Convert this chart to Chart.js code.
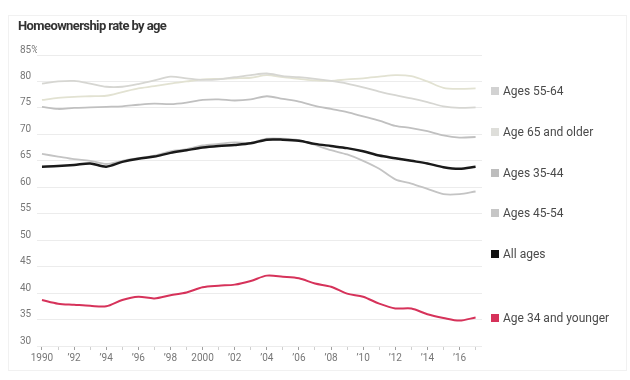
<!DOCTYPE html>
<html lang="en">
<head>
    <meta charset="UTF-8">
    <title>Homeownership rate by age</title>
    <script src="https://cdn.jsdelivr.net/npm/chart.js"></script>
    <style>
        body { margin: 0; background: #fff; font-family: Roboto, sans-serif; }
        #wrap { position: relative; width: 630px; height: 380px; }
        #frame { position: absolute; left: 8px; top: 15px; width: 617px; height: 354px; border: 1px solid #f1f1f1; }
        #title { position: absolute; left: 18px; top: 18px; font-size: 13px; font-weight: bold; color: #333; letter-spacing: -0.6px; }
        .leg { position: absolute; left: 491px; font-size: 12px; color: #4a4a4a; white-space: nowrap; line-height: 14px; }
        .leg i { display: inline-block; width: 8px; height: 8px; margin-right: 4px; vertical-align: 0px; }
    </style>
</head>
<body>
<div id="wrap">
    <div id="frame"></div>
    <canvas id="chart" width="630" height="380"></canvas>
    <div id="title">Homeownership rate by age</div>
</div>
<script>
    const years = [1990, 1991, 1992, 1993, 1994, 1995, 1996, 1997, 1998, 1999,
                   2000, 2001, 2002, 2003, 2004, 2005, 2006, 2007, 2008, 2009,
                   2010, 2011, 2012, 2013, 2014, 2015, 2016, 2017];

    const age55to64 = [79.6, 80.0, 80.1, 79.6, 79.0, 79.0, 79.5, 80.2, 80.9, 80.6,
                       80.3, 80.4, 80.8, 81.2, 81.5, 81.0, 80.8, 80.5, 80.1, 79.6,
                       78.9, 78.1, 77.4, 76.8, 76.1, 75.3, 75.0, 75.1];
    const age65plus = [76.5, 76.9, 77.1, 77.2, 77.3, 78.0, 78.7, 79.1, 79.6, 80.0,
                       80.4, 80.5, 80.6, 80.7, 81.2, 80.8, 80.5, 80.2, 80.1, 80.4,
                       80.6, 80.9, 81.2, 81.0, 80.0, 78.8, 78.6, 78.7];
    const age35to44 = [66.3, 65.8, 65.3, 65.0, 64.4, 65.0, 65.5, 66.0, 66.8, 67.2,
                       67.9, 68.2, 68.5, 68.4, 69.2, 69.2, 68.9, 68.0, 67.0, 66.2,
                       65.0, 63.5, 61.5, 60.7, 59.7, 58.7, 58.7, 59.2];
    const age45to54 = [75.2, 74.8, 75.0, 75.1, 75.2, 75.3, 75.6, 75.8, 75.7, 76.0,
                       76.5, 76.6, 76.4, 76.6, 77.2, 76.7, 76.2, 75.4, 74.8, 74.2,
                       73.4, 72.6, 71.6, 71.2, 70.6, 69.8, 69.4, 69.5];
    const allAges = [63.9, 64.0, 64.2, 64.5, 63.9, 64.8, 65.4, 65.8, 66.5, 67.0,
                     67.5, 67.8, 68.0, 68.3, 69.0, 69.0, 68.8, 68.2, 67.8, 67.4,
                     66.8, 66.0, 65.5, 65.0, 64.5, 63.8, 63.5, 63.9];
    const age34under = [38.7, 38.0, 37.8, 37.6, 37.5, 38.7, 39.3, 39.0, 39.6, 40.1,
                        41.1, 41.4, 41.6, 42.3, 43.3, 43.1, 42.8, 41.8, 41.2, 39.9,
                        39.3, 38.0, 37.1, 37.1, 36.0, 35.3, 34.8, 35.4];

    const yTicks = [30, 35, 40, 45, 50, 55, 60, 65, 70, 75, 80, 85];

    // legend order as printed on the right, with its y position
    const legendItems = [
        { label: 'Ages 55-64', color: '#d2d2d2', top: 84 },
        { label: 'Age 65 and older', color: '#dededa', top: 125 },
        { label: 'Ages 35-44', color: '#bdbdbd', top: 166 },
        { label: 'Ages 45-54', color: '#c6c6c6', top: 206 },
        { label: 'All ages', color: '#111111', top: 247 },
        { label: 'Age 34 and younger', color: '#d6325a', top: 311 }
    ];

    const wrap = document.getElementById('wrap');
    legendItems.forEach(item => {
        const d = document.createElement('div');
        d.className = 'leg';
        d.style.top = item.top + 'px';
        d.innerHTML = '<i style="background:' + item.color + '"></i>' + item.label;
        wrap.appendChild(d);
    });

    Chart.defaults.font.family = 'Roboto';
    const ctx = document.getElementById('chart');

    new Chart(ctx, {
        type: 'line',
        data: {
            labels: years,
            datasets: [
                { label: 'Age 34 and younger', data: age34under, borderColor: '#d6325a', borderWidth: 2 },
                { label: 'All ages', data: allAges, borderColor: '#1a1a1a', borderWidth: 2.5 },
                { label: 'Ages 35-44', data: age35to44, borderColor: '#c4c4c4', borderWidth: 1.8 },
                { label: 'Ages 45-54', data: age45to54, borderColor: '#c0c0c0', borderWidth: 1.8 },
                { label: 'Ages 55-64', data: age55to64, borderColor: '#d6d6d2', borderWidth: 1.8 },
                { label: 'Age 65 and older', data: age65plus, borderColor: '#e2e2d2', borderWidth: 1.8 }
            ]
        },
        options: {
            responsive: false,
            animation: false,
            elements: {
                point: { radius: 0 },
                line: { tension: 0.3 }
            },
            layout: { padding: { left: 20, right: 148, top: 55, bottom: 10 } },
            plugins: {
                legend: { display: false },
                tooltip: { enabled: false }
            },
            scales: {
                x: {
                    type: 'linear',
                    min: 1989.69,
                    max: 2017.4,
                    afterBuildTicks: scale => { scale.ticks = years.map(v => ({ value: v })); },
                    afterFit: scale => { scale.height = 24; },
                    border: { display: false },
                    grid: {
                        drawOnChartArea: false,
                        drawTicks: true,
                        tickLength: 4,
                        color: c => (c.tick && c.tick.value % 2 === 0) ? '#a0a0a0' : '#cfcfcf'
                    },
                    ticks: {
                        autoSkip: false,
                        maxRotation: 0,
                        padding: 2,
                        color: '#777',
                        font: { size: 10 },
                        callback: v => {
                            if (v % 2 !== 0) return '';
                            if (v === 1990 || v === 2000) return String(v);
                            return '\u2019' + String(v).slice(2);
                        }
                    }
                },
                y: {
                    min: 30,
                    max: 85,
                    afterBuildTicks: scale => { scale.ticks = yTicks.map(v => ({ value: v })); },
                    afterFit: scale => { scale.width = 17; },
                    border: { display: false },
                    grid: { color: '#ececec', drawTicks: false },
                    ticks: {
                        crossAlign: 'far',
                        padding: 0,
                        labelOffset: -5,
                        color: '#777',
                        font: { size: 10 },
                        callback: v => v === 85 ? '85%' : String(v)
                    }
                }
            }
        }
    });
</script>
</body>
</html>
